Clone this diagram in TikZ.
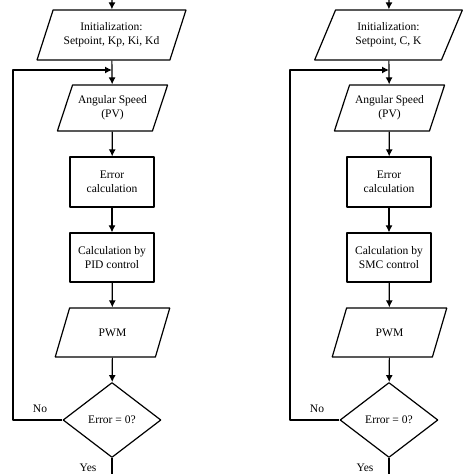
\documentclass[tikz,border=0pt]{standalone}
\usepackage{fontspec}
\setmainfont{Liberation Serif}
\usetikzlibrary{shapes.geometric,arrows.meta}
\tikzset{
  iobox/.style={draw,trapezium,trapezium left angle=63,trapezium right angle=117,
    trapezium stretches=true,align=center,inner sep=1bp},
  procbox/.style={draw,rectangle,minimum width=84bp,minimum height=50bp,align=center},
  decbox/.style={draw,diamond,minimum width=98bp,minimum height=75bp,inner sep=0bp},
  flow/.style={black,->},
}
\begin{document}
\begin{tikzpicture}[>={Latex[length=7bp,width=7bp]},line join=bevel,line width=1.2bp,
  font=\fontsize{11.6}{14}\selectfont]
\useasboundingbox (0bp,0bp) rectangle (474bp,474bp);
%% PID chart
\coordinate (pid_top) at (112bp,474bp);
\node (pid_init) at (111.5bp,439bp) [iobox,minimum width=149bp,minimum height=50bp] {Initialization:\\Setpoint, Kp, Ki, Kd};
\node (pid_pv) at (112.5bp,366bp) [iobox,minimum width=111bp,minimum height=46bp] {Angular Speed\\(PV)};
\node (pid_err) at (112bp,292bp) [procbox] {Error\\calculation};
\node (pid_calc) at (112bp,216.5bp) [procbox,minimum height=49bp] {Calculation by\\PID control};
\node (pid_pwm) at (112.5bp,141.5bp) [iobox,minimum width=115bp,minimum height=49bp] {PWM};
\node (pid_dec) at (112bp,54bp) [decbox] {Error = 0?};
\coordinate (pid_join) at (112bp,404bp);
\coordinate (pid_end) at (112bp,0bp);
\node (pid_no) at (40bp,65bp) {No};
\node (pid_yes) at (88bp,1bp) [anchor=south,inner sep=0.5bp] {Yes};
\draw [flow] (pid_top) -- (pid_init);
\draw [flow] (pid_init) -- (pid_pv);
\draw [flow] (pid_pv) -- (pid_err);
\draw [flow] (pid_err) -- (pid_calc);
\draw [flow] (pid_calc) -- (pid_pwm);
\draw [flow] (pid_pwm) -- (pid_dec);
\draw [flow] (pid_dec.west) -- (13bp,54bp) |- (pid_join);
\draw [black] (pid_dec) -- (pid_end);
%% SMC chart
\coordinate (smc_top) at (389bp,474bp);
\node (smc_init) at (388.5bp,439bp) [iobox,minimum width=149bp,minimum height=50bp] {Initialization:\\Setpoint, C, K};
\node (smc_pv) at (389.5bp,366bp) [iobox,minimum width=111bp,minimum height=46bp] {Angular Speed\\(PV)};
\node (smc_err) at (389bp,292bp) [procbox] {Error\\calculation};
\node (smc_calc) at (389bp,216.5bp) [procbox,minimum height=49bp] {Calculation by\\SMC control};
\node (smc_pwm) at (389.5bp,141.5bp) [iobox,minimum width=115bp,minimum height=49bp] {PWM};
\node (smc_dec) at (389bp,54bp) [decbox] {Error = 0?};
\coordinate (smc_join) at (389bp,404bp);
\coordinate (smc_end) at (389bp,0bp);
\node (smc_no) at (317bp,65bp) {No};
\node (smc_yes) at (365bp,1bp) [anchor=south,inner sep=0.5bp] {Yes};
\draw [flow] (smc_top) -- (smc_init);
\draw [flow] (smc_init) -- (smc_pv);
\draw [flow] (smc_pv) -- (smc_err);
\draw [flow] (smc_err) -- (smc_calc);
\draw [flow] (smc_calc) -- (smc_pwm);
\draw [flow] (smc_pwm) -- (smc_dec);
\draw [flow] (smc_dec.west) -- (290bp,54bp) |- (smc_join);
\draw [black] (smc_dec) -- (smc_end);
%
\end{tikzpicture}
\end{document}
